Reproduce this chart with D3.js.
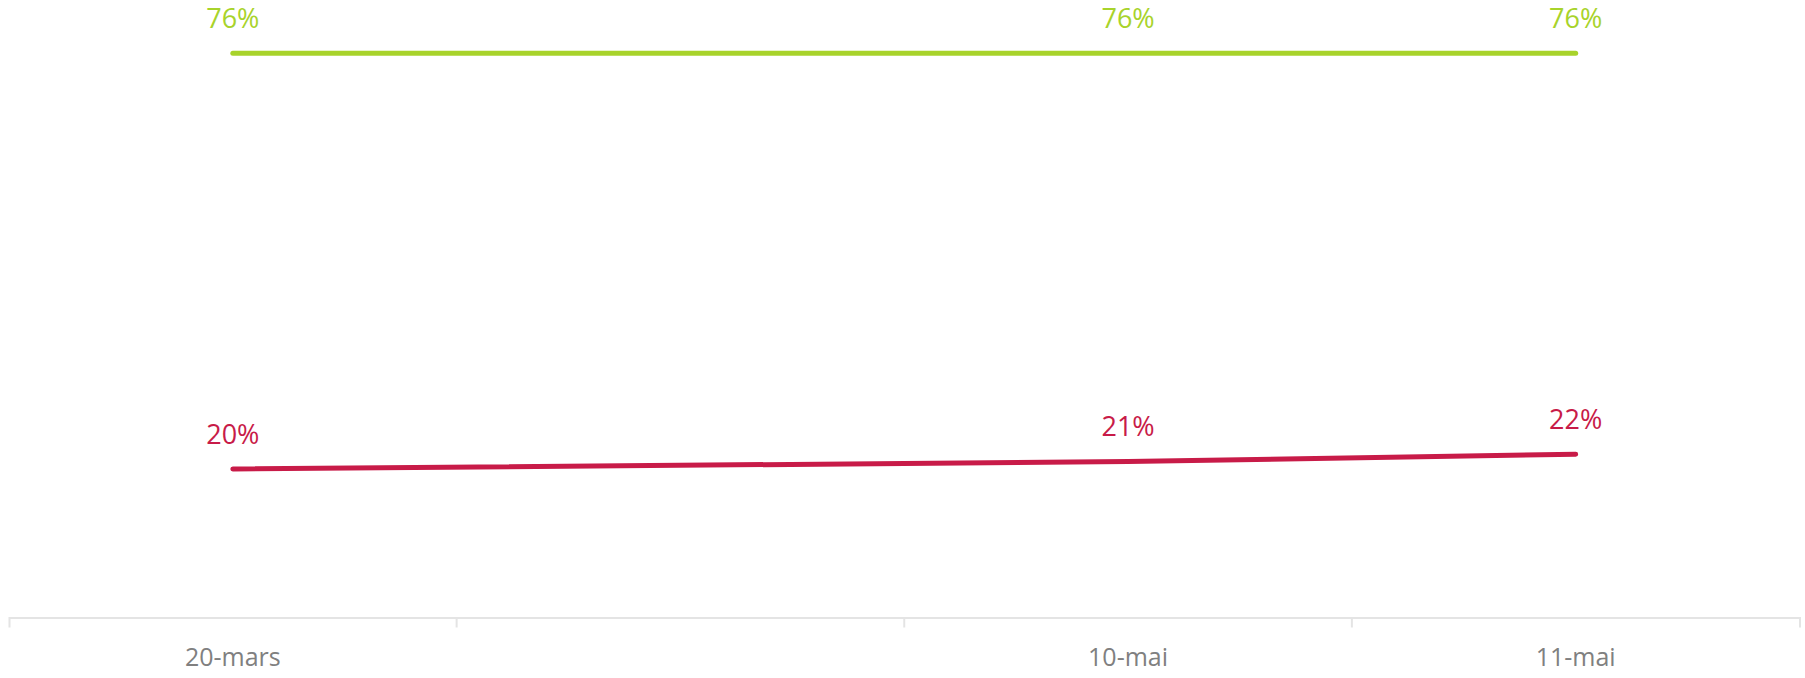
<!DOCTYPE html>
<html>
<head>
<meta charset="utf-8">
<script src="https://cdn.jsdelivr.net/npm/d3@7"></script>
<style>
  html, body { margin: 0; padding: 0; background: #fff; }
  svg { display: block; font-family: "Segoe UI", "Open Sans", sans-serif; }
</style>
</head>
<body>
<svg id="chart"></svg>
<script>
// categories on the x axis (the second one has no label and no data)
var categories = ["20-mars", "", "10-mai", "11-mai"];
// series values in %
var greenValues = [76, null, 76, 76];
var redValues = [20, null, 21, 22];
var yMax = 76;

var width = 1805;
var height = 678;

var svg = d3.select('#chart')
    .attr('width', width)
    .attr('height', height);

var x = d3.scaleBand()
    .domain(categories)
    .range([9, 1799.5])
    .paddingInner(0)
    .paddingOuter(0);

var y = d3.scaleLinear()
    .domain([0, yMax])
    .range([617.5, 53.3]);

// x axis: outer ticks at both ends, inner ticks on the band edges
var axis = d3.axisBottom(x)
    .tickSizeInner(0)
    .tickSizeOuter(10);

var gAxis = svg.append('g')
    .attr('transform', 'translate(0,' + y(0) + ')')
    .call(axis);

gAxis.select('.domain')
    .attr('stroke', '#e4e4e4')
    .attr('stroke-width', 2);

gAxis.selectAll('.tick text')
    .attr('dy', null)
    .attr('y', 48.5)
    .attr('fill', '#808080')
    .style('font-size', '25px')
    .style('font-family', '"Segoe UI", "Open Sans", sans-serif');

gAxis.selectAll('.edge')
    .data(categories.slice(1))
    .enter()
    .append('line')
    .attr('class', 'edge')
    .attr('x1', d => x(d))
    .attr('x2', d => x(d))
    .attr('y1', 0)
    .attr('y2', 10)
    .attr('stroke', '#e4e4e4')
    .attr('stroke-width', 2);

var series = [
    { values: greenValues, color: '#a8d32b' },
    { values: redValues, color: '#c81b48' }
];

var line = d3.line()
    .x(d => x(d.cat) + x.bandwidth() / 2)
    .y(d => y(d.v));

series.forEach(s => {
    //skip the empty category so the line joins the points around it
    var pts = categories.map((c, i) => ({ cat: c, v: s.values[i] }))
        .filter(d => d.v != null);

    svg.append('path')
        .datum(pts)
        .attr('fill', 'none')
        .attr('stroke', s.color)
        .attr('stroke-width', 5)
        .attr('stroke-linecap', 'round')
        .attr('stroke-linejoin', 'round')
        .attr('d', line);

    svg.selectAll(null)
        .data(pts)
        .enter()
        .append('text')
        .attr('x', d => x(d.cat) + x.bandwidth() / 2)
        .attr('y', d => y(d.v) - 25.5)
        .attr('text-anchor', 'middle')
        .attr('fill', s.color)
        .style('font-size', '27px')
        .text(d => d.v + '%');
});
</script>
</body>
</html>
